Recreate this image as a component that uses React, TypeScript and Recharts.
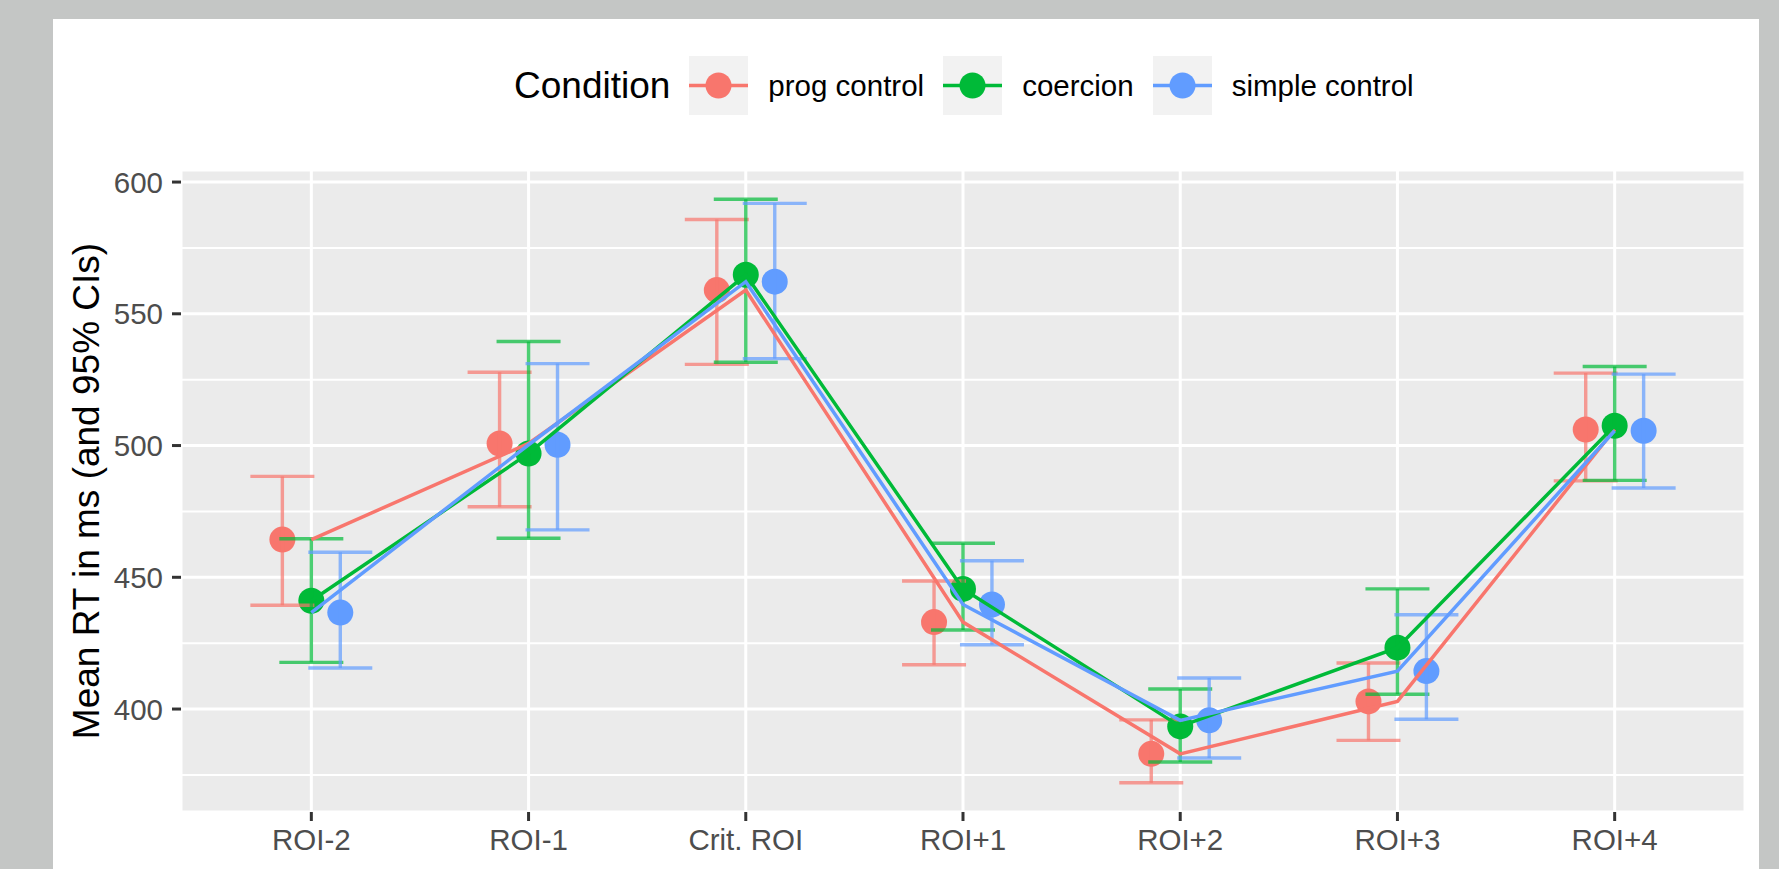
import React from 'react';
import {
  ComposedChart,
  Line,
  Scatter,
  ErrorBar,
  XAxis,
  YAxis,
  CartesianGrid,
  Legend,
} from 'recharts';

const categories = ['ROI-2', 'ROI-1', 'Crit. ROI', 'ROI+1', 'ROI+2', 'ROI+3', 'ROI+4'];

// mean RT and 95% CI bounds per condition
const progMean = [464.3, 500.8, 559.0, 433.0, 383.0, 402.9, 506.1];
const progLow = [439.4, 476.8, 530.8, 416.8, 372.0, 388.1, 486.6];
const progHigh = [488.3, 527.8, 585.8, 448.6, 395.9, 417.5, 527.5];

const coerMean = [441.1, 497.0, 564.8, 445.6, 393.4, 423.3, 507.5];
const coerLow = [417.7, 464.8, 531.6, 430.0, 379.9, 405.6, 486.8];
const coerHigh = [464.6, 539.5, 593.5, 462.9, 407.6, 445.6, 530.0];

const simpMean = [436.6, 500.3, 562.2, 439.7, 395.7, 414.4, 505.6];
const simpLow = [415.6, 468.0, 533.0, 424.4, 381.4, 396.1, 483.9];
const simpHigh = [459.5, 531.1, 591.9, 456.3, 411.8, 435.8, 527.1];

const yTicks = [400, 450, 500, 550, 600];
const yMinorTicks = [375, 425, 475, 525, 575];

const FONT = '"Liberation Sans", Arial, Helvetica, sans-serif';
const DODGE = 0.4 / 3;

const series = [
  { name: 'prog control', color: '#F8766D', mean: progMean, low: progLow, high: progHigh, shift: -DODGE },
  { name: 'coercion', color: '#00BA38', mean: coerMean, low: coerLow, high: coerHigh, shift: 0 },
  { name: 'simple control', color: '#619CFF', mean: simpMean, low: simpLow, high: simpHigh, shift: DODGE },
];

// ggplot style 5% expansion of the data range
const minY = Math.min(...progLow, ...coerLow, ...simpLow);
const maxY = Math.max(...progHigh, ...coerHigh, ...simpHigh);
const padY = (maxY - minY) * 0.05;
const yDomain = [minY - padY, maxY + padY];
const xDomain = [-0.6, categories.length - 0.4];
const xTicks = categories.map((_, i) => i);

type Serie = (typeof series)[number];

const pointRows = (s: Serie) =>
  s.mean.map((m, i) => ({ x: i + s.shift, y: m, err: [m - s.low[i], s.high[i] - m] }));
const lineRows = (s: Serie) => s.mean.map((m, i) => ({ x: i, y: m }));

const LegendContent = () => (
  <div style={{ display: 'flex', alignItems: 'center', height: 59, fontFamily: FONT, lineHeight: 1 }}>
    <span style={{ fontSize: 37, color: '#000', marginRight: 19, whiteSpace: 'nowrap' }}>Condition</span>
    {series.map((s) => (
      <React.Fragment key={s.name}>
        <svg width={59} height={59} style={{ display: 'block' }}>
          <rect width={59} height={59} fill="#F2F2F2" />
          <line x1={0} x2={59} y1={29.5} y2={29.5} stroke={s.color} strokeWidth={3.4} />
          <circle cx={29.5} cy={29.5} r={13} fill={s.color} />
        </svg>
        <span style={{ fontSize: 29.5, color: '#000', marginLeft: 20, marginRight: 19, whiteSpace: 'nowrap' }}>
          {s.name}
        </span>
      </React.Fragment>
    ))}
  </div>
);

const YTitle = (props: any) => {
  const vb = props.viewBox || {};
  const x = vb.x + 18;
  const y = vb.y + vb.height / 2;
  return (
    <text
      x={x}
      y={y}
      transform={`rotate(-90, ${x}, ${y})`}
      textAnchor="middle"
      fontSize={37}
      fontFamily={FONT}
      fill="#000"
    >
      Mean RT in ms (and 95% CIs)
    </text>
  );
};

export default function App() {
  return (
    <div style={{ position: 'absolute', left: 0, top: 0, width: 1779, height: 869, background: '#C4C6C5', overflow: 'hidden' }}>
      <div style={{ position: 'absolute', left: 53, top: 19, width: 1706, height: 850, background: '#FFFFFF' }} />
      <div style={{ position: 'absolute', left: 0, top: 0 }}>
        <ComposedChart width={1779} height={869} margin={{ top: 170, right: 34, bottom: 0, left: 81 }}>
          <CartesianGrid fill="#EBEBEB" fillOpacity={1} stroke="#FFFFFF" strokeWidth={3} />
          <CartesianGrid horizontalValues={yMinorTicks} vertical={false} stroke="#FFFFFF" strokeWidth={2} />
          <XAxis
            type="number"
            dataKey="x"
            domain={xDomain}
            ticks={xTicks}
            interval={0}
            allowDataOverflow
            tickFormatter={(v: number) => categories[v] ?? ''}
            axisLine={false}
            tickLine={{ stroke: '#333333', strokeWidth: 3 }}
            tickSize={9}
            tickMargin={8}
            height={57}
            tick={{ fill: '#4D4D4D', fontSize: 29.5, fontFamily: FONT }}
          />
          <YAxis
            type="number"
            dataKey="y"
            domain={yDomain}
            ticks={yTicks}
            interval={0}
            allowDataOverflow
            axisLine={false}
            tickLine={{ stroke: '#333333', strokeWidth: 3 }}
            tickSize={9}
            tickMargin={9}
            width={100}
            tick={{ fill: '#4D4D4D', fontSize: 29.5, fontFamily: FONT }}
            label={{ content: YTitle }}
          />
          <Legend
            layout="horizontal"
            verticalAlign="middle"
            align="center"
            wrapperStyle={{ top: 56, left: 514, width: 'auto', height: 59 }}
            content={LegendContent}
          />
          {series.map((s) => (
            <Scatter
              key={`pt-${s.name}`}
              name={s.name}
              data={pointRows(s)}
              dataKey="y"
              isAnimationActive={false}
              legendType="none"
              zIndex={600}
              shape={(p: any) => <circle cx={p.cx} cy={p.cy} r={13} fill={s.color} />}
            />
          ))}
          {series.map((s) => (
            <Scatter
              key={`eb-${s.name}`}
              name={`${s.name} CI`}
              data={pointRows(s)}
              dataKey="y"
              isAnimationActive={false}
              legendType="none"
              zIndex={650}
              shape={() => <g />}
            >
              <ErrorBar
                dataKey="err"
                direction="y"
                width={32}
                stroke={s.color}
                strokeOpacity={0.7}
                strokeWidth={3.4}
                isAnimationActive={false}
                zIndex={650}
              />
            </Scatter>
          ))}
          {series.map((s) => (
            <Line
              key={`ln-${s.name}`}
              name={s.name}
              data={lineRows(s)}
              dataKey="y"
              type="linear"
              stroke={s.color}
              strokeWidth={3.5}
              dot={false}
              activeDot={false}
              isAnimationActive={false}
              legendType="none"
              zIndex={700}
            />
          ))}
        </ComposedChart>
      </div>
    </div>
  );
}
